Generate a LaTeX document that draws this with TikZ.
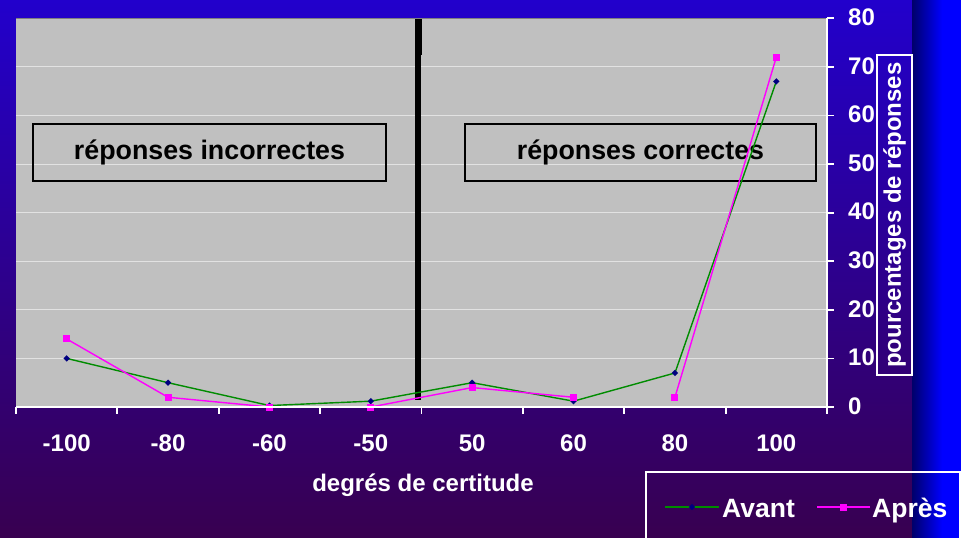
\documentclass[tikz,border=0pt]{standalone}
\usepackage{fontspec}
\setmainfont{Liberation Sans}
\usetikzlibrary{calc}
\definecolor{bgtop}{HTML}{2200CC}
\definecolor{bgmid}{HTML}{2C0092}
\definecolor{bgbot}{HTML}{380050}
\definecolor{stripdark}{HTML}{00006A}
\definecolor{stripblue}{HTML}{0000FF}
\definecolor{plotgray}{HTML}{C0C0C0}
\definecolor{gridc}{HTML}{E2E2E2}
\definecolor{avantc}{HTML}{008C00}
\definecolor{avantm}{HTML}{000080}
\definecolor{apresc}{HTML}{FF00FF}
\begin{document}
\begin{tikzpicture}[x=1pt,y=-1pt,
  wlabel/.style={text=white,font=\fontsize{24}{28}\selectfont\bfseries,inner sep=0pt},
  zonebox/.style={draw=black,line width=1.4pt,text=black,minimum width=#1,minimum height=57pt,inner sep=0pt,
    font=\fontsize{26.8}{30}\selectfont\bfseries},
  avantline/.style={avantc,line width=1.4pt},
  apresline/.style={apresc,line width=1.4pt},
  axisline/.style={white,line width=1.8pt}]
\useasboundingbox (0,0) rectangle (961,538);
% background
\shade[top color=bgtop,middle color=bgmid,bottom color=bgbot] (0,0) rectangle (961,538);
\shade[left color=stripdark,right color=stripblue] (912,0) rectangle (942,538);
\fill[stripblue] (942,0) rectangle (961,538);
% plot area
\fill[plotgray] (16,18) rectangle (827,407);
\draw[gray,line width=0.8pt] (16,18) -- (827,18);
\foreach \v in {10,20,...,70}
  \draw[gridc,line width=1pt] (16,{407-4.86*\v}) -- (827,{407-4.86*\v});
% zone boxes
\node[zonebox=353pt] (incorr) at (209.5,152.5) {réponses incorrectes};
\node[zonebox=351pt] (corr) at (640.5,152.5) {réponses correctes};
% divider
\fill[black] (415,19) rectangle (422,55);
\fill[black] (415,55) rectangle (421,400);
% data coordinates
\foreach \v [count=\i from 0] in {10,5,0.3,1.2,5,1.2,7,67}
  \coordinate (av\i) at ({16+101.375*(\i+0.5)},{407-4.86*\v});
\foreach \v [count=\i from 0] in {14,2,0,0,4,2,2,72}
  \coordinate (ap\i) at ({16+101.375*(\i+0.5)},{407-4.86*\v});
% series
\draw[avantline] (av0) -- (av1) -- (av2) -- (av3) -- (av4) -- (av5) -- (av6) -- (av7);
\foreach \i in {0,...,7}
  \fill[avantm] (av\i) +(0,-3.2) -- +(3.2,0) -- +(0,3.2) -- +(-3.2,0) -- cycle;
\draw[apresline] (ap0) -- (ap1) -- (ap2) -- (ap3) -- (ap4) -- (ap5);
\draw[apresline] (ap6) -- (ap7);
\foreach \i in {0,...,7}
  \fill[apresc] (ap\i) +(-3.5,-3.5) rectangle +(3.5,3.5);
% axes
\draw[axisline] (16,407) -- (827,407);
\foreach \i in {0,...,8}
  \draw[axisline] ({16+101.375*\i},407) -- ({16+101.375*\i},414);
\draw[axisline] (827,18) -- (827,407);
\foreach \v in {0,10,...,80}
  \draw[axisline] (827,{407-4.86*\v}) -- (834,{407-4.86*\v});
% tick labels
\foreach \t [count=\i from 0] in {-100,-80,-60,-50,50,60,80,100}
  \node[wlabel] (xl\i) at ({16+101.375*(\i+0.5)},443) {\t};
\foreach \v [count=\i from 0] in {0,10,...,80}
  \node[wlabel,anchor=west] (yl\i) at (848,{406-4.86*\v}) {\v};
% axis titles
\node[wlabel,anchor=base] (xtitle) at (423,491) {degrés de certitude};
\node[wlabel,draw=white,line width=1.6pt,rotate=90,minimum width=320pt,minimum height=35pt] (ytitle) at (894.5,215) {pourcentages de réponses};
% legend
\draw[white,line width=1.8pt] (646,545) -- (646,472) -- (960,472) -- (960,545);
\coordinate (lga) at (665,507);
\coordinate (lgb) at (719,507);
\coordinate (lgc) at (817,507);
\coordinate (lgd) at (870,507);
\draw[avantline,line width=2pt] (lga) -- (lgb);
\fill[avantm] ($(lga)!0.5!(lgb)$) +(0,-3.2) -- +(3.2,0) -- +(0,3.2) -- +(-3.2,0) -- cycle;
\node[wlabel,anchor=base west,font=\fontsize{26.5}{30}\selectfont\bfseries] (lav) at (722,517) {Avant};
\draw[apresline,line width=2pt] (lgc) -- (lgd);
\fill[apresc] ($(lgc)!0.5!(lgd)$) +(-3.5,-3.5) rectangle +(3.5,3.5);
\node[wlabel,anchor=base west,font=\fontsize{26.5}{30}\selectfont\bfseries] (lap) at (872,517) {Après};
\end{tikzpicture}
\end{document}
